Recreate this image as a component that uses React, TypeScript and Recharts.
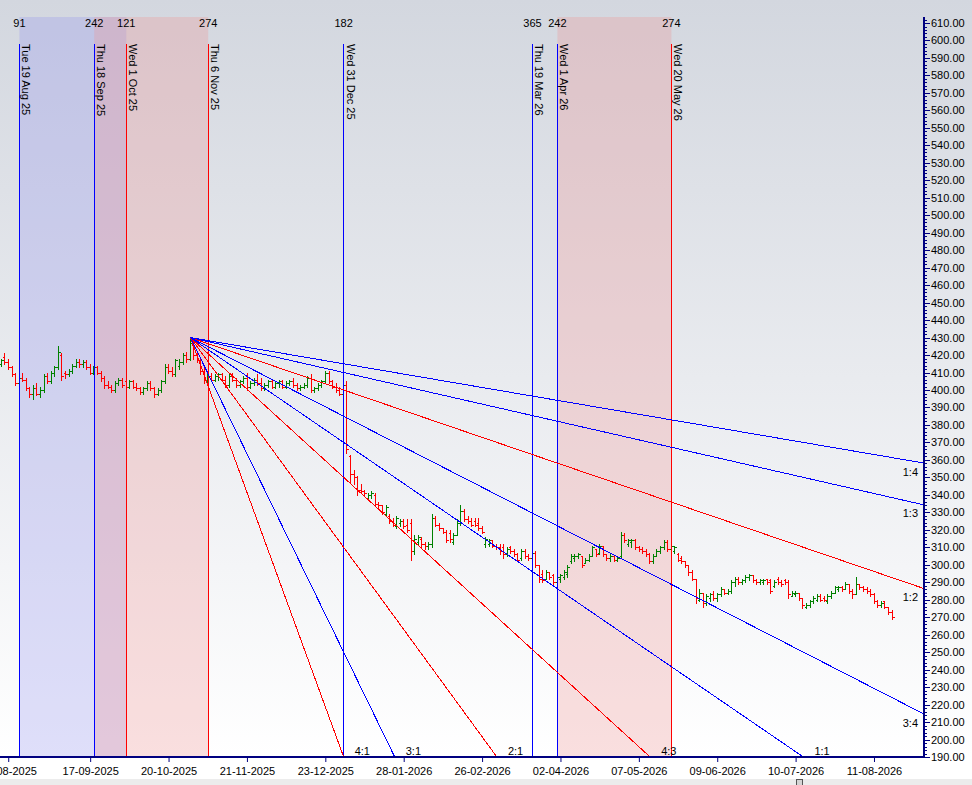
import React from 'react';
import { ComposedChart, Bar, XAxis, YAxis, ReferenceLine, ReferenceArea, ReferenceDot } from 'recharts';

// one OHLC bar per trading day: [open, high, low, close]
const bars: [number, number, number, number][] = [
  [415, 418, 414, 417], [419, 421, 415, 416], [416, 418, 412, 413], [413, 414, 408, 409], [409, 410, 403, 404],
  [404, 408, 403, 407], [407, 410, 405, 406], [406, 407, 400, 401], [401, 402, 396, 398], [398, 403, 395, 401],
  [401, 404, 397, 398], [398, 402, 396, 400], [400, 409, 399, 408], [408, 410, 404, 405], [405, 411, 404, 410],
  [410, 414, 408, 413], [413, 425, 412, 422], [420, 421, 406, 408], [410, 411, 407, 409], [409, 412, 408, 411],
  [411, 415, 410, 414], [414, 418, 413, 416], [416, 418, 413, 415], [415, 417, 413, 416], [416, 417, 412, 413],
  [413, 415, 409, 410], [410, 414, 409, 413], [413, 414, 409, 410], [410, 411, 405, 407], [407, 408, 401, 403],
  [403, 405, 401, 402], [402, 403, 399, 400], [400, 405, 399, 404], [404, 407, 403, 406], [406, 407, 402, 403],
  [405, 406, 400, 402], [402, 406, 401, 405], [405, 406, 401, 402], [402, 404, 400, 401], [401, 402, 398, 399],
  [399, 402, 398, 401], [401, 405, 400, 404], [404, 405, 400, 401], [401, 402, 396, 398], [398, 401, 397, 400],
  [400, 406, 399, 405], [405, 415, 404, 413], [413, 415, 410, 411], [411, 413, 408, 409], [409, 418, 408, 417],
  [414, 418, 412, 416], [416, 421, 415, 420], [420, 422, 416, 418], [418, 430, 417, 427], [426, 427, 418, 420],
  [420, 422, 416, 417], [417, 419, 409, 411], [411, 414, 404, 406], [406, 410, 404, 408], [408, 410, 405, 406],
  [406, 409, 405, 408], [408, 410, 406, 409], [409, 410, 405, 406], [406, 408, 402, 403], [403, 409, 402, 408],
  [408, 410, 405, 406], [406, 407, 402, 403], [403, 406, 402, 405], [405, 408, 404, 407], [407, 410, 400, 402],
  [402, 405, 401, 404], [404, 407, 403, 406], [406, 409, 403, 404], [404, 407, 400, 401], [401, 404, 400, 403],
  [403, 406, 402, 405], [405, 406, 401, 402], [402, 405, 401, 404], [404, 406, 402, 405], [405, 406, 401, 402],
  [402, 405, 401, 404], [404, 406, 403, 405], [405, 407, 402, 403], [403, 404, 400, 401], [401, 403, 400, 402],
  [402, 404, 401, 403], [403, 408, 402, 407], [407, 409, 399, 400], [400, 402, 399, 401], [401, 404, 400, 403],
  [403, 406, 402, 405], [405, 411, 404, 410], [410, 411, 404, 405], [405, 406, 401, 402], [402, 404, 399, 400],
  [400, 402, 397, 398], [398, 405, 397, 403], [403, 405, 364, 366], [362, 363, 347, 352], [352, 354, 346, 350],
  [350, 351, 340, 343], [343, 346, 341, 342], [342, 343, 340, 341], [338, 341, 337, 340], [340, 342, 338, 341],
  [340, 341, 334, 335], [335, 336, 333, 334], [334, 334, 329, 330], [329, 334, 328, 333], [328, 329, 324, 325],
  [325, 327, 322, 323], [322, 328, 321, 327], [324, 326, 322, 325], [325, 326, 321, 322], [323, 326, 319, 320],
  [324, 326, 303, 308], [308, 317, 306, 315], [313, 317, 312, 316], [315, 316, 310, 312], [312, 313, 309, 311],
  [311, 313, 309, 312], [312, 329, 310, 327], [327, 328, 322, 323], [323, 324, 320, 321], [321, 321, 318, 319],
  [319, 320, 313, 314], [318, 320, 313, 315], [313, 318, 312, 317], [317, 326, 317, 324], [324, 334, 323, 331],
  [331, 332, 325, 326], [326, 328, 324, 325], [325, 327, 322, 323], [325, 327, 322, 323], [324, 327, 320, 321],
  [321, 322, 318, 319], [312, 316, 310, 315], [312, 315, 311, 314], [314, 314, 310, 311], [311, 312, 309, 310],
  [310, 312, 306, 308], [310, 312, 304, 306], [306, 310, 305, 309], [310, 311, 307, 308], [308, 309, 305, 306],
  [306, 307, 302, 303], [304, 309, 303, 308], [308, 309, 304, 305], [305, 306, 303, 304], [304, 309, 300, 307],
  [307, 308, 299, 300], [300, 300, 290, 292], [295, 297, 290, 291], [292, 297, 292, 296], [296, 296, 292, 293],
  [294, 295, 288, 290], [290, 294, 289, 293], [292, 295, 290, 294], [293, 297, 292, 296], [295, 300, 293, 299],
  [302, 306, 301, 305], [304, 306, 302, 305], [305, 307, 304, 306], [305, 305, 299, 300], [301, 304, 301, 303],
  [303, 306, 302, 305], [305, 311, 305, 310], [309, 309, 305, 306], [307, 312, 306, 311], [311, 311, 305, 306],
  [306, 306, 303, 304], [304, 306, 302, 305], [305, 305, 302, 303], [303, 305, 302, 304], [305, 319, 304, 317],
  [317, 318, 313, 314], [312, 315, 311, 314], [313, 315, 310, 314], [314, 315, 309, 310], [310, 311, 308, 309],
  [309, 310, 307, 308], [308, 309, 305, 306], [306, 307, 301, 302], [302, 306, 301, 305], [305, 309, 305, 308],
  [308, 311, 307, 310], [310, 314, 309, 313], [313, 314, 308, 309], [309, 312, 307, 311], [308, 311, 307, 310],
  [306, 307, 302, 303], [304, 305, 301, 302], [302, 302, 299, 300], [300, 300, 294, 296], [296, 297, 291, 292],
  [292, 292, 278, 281], [280, 286, 279, 284], [284, 284, 276, 278], [278, 283, 277, 282], [281, 284, 279, 283],
  [283, 285, 280, 281], [281, 284, 279, 283], [283, 287, 282, 286], [286, 286, 283, 284], [284, 286, 283, 285],
  [285, 291, 284, 290], [290, 293, 288, 292], [292, 293, 289, 290], [290, 292, 289, 291], [291, 294, 290, 293],
  [293, 295, 291, 294], [294, 294, 290, 291], [291, 292, 289, 290], [290, 292, 289, 291], [290, 292, 289, 291],
  [292, 292, 289, 290], [291, 292, 284, 285], [288, 291, 287, 290], [292, 293, 289, 290], [290, 291, 288, 289],
  [291, 292, 289, 290], [290, 291, 281, 283], [282, 285, 282, 284], [283, 285, 282, 284], [284, 284, 280, 281],
  [281, 281, 275, 277], [276, 278, 275, 277], [277, 280, 276, 279], [279, 282, 278, 281], [280, 283, 279, 282],
  [282, 283, 279, 280], [281, 282, 279, 280], [279, 283, 278, 282], [282, 285, 281, 284], [284, 288, 284, 287],
  [286, 288, 285, 287], [287, 288, 285, 286], [286, 290, 286, 289], [289, 289, 284, 285], [285, 286, 281, 283],
  [283, 293, 283, 289], [289, 289, 286, 287], [287, 288, 285, 286], [286, 287, 284, 285], [285, 286, 282, 283],
  [283, 284, 278, 279], [279, 280, 276, 277], [277, 279, 276, 278], [279, 279, 275, 276], [276, 276, 272, 273],
  [273, 274, 269, 270],
];

// x axis: bar index of each date label
const xTickIdx = [2, 25, 47, 69, 91, 113, 135, 157, 179, 201, 223, 245];
const xTickLabels = [
  '14-08-2025', '17-09-2025', '20-10-2025', '21-11-2025', '23-12-2025', '28-01-2026',
  '26-02-2026', '02-04-2026', '07-05-2026', '09-06-2026', '10-07-2026', '11-08-2026',
];

// vertical time markers
const markerIdx = [5, 26, 35, 58, 96, 149, 156, 188];
const markerDates = [
  'Tue 19 Aug 25', 'Thu 18 Sep 25', 'Wed 1 Oct 25', 'Thu 6 Nov 25',
  'Wed 31 Dec 25', 'Thu 19 Mar 26', 'Wed 1 Apr 26', 'Wed 20 May 26',
];
const markerCounts = ['91', '242', '121', '274', '182', '365', '242', '274'];
const markerColors = ['#0000ff', '#0000ff', '#ff0000', '#ff0000', '#0000ff', '#0000ff', '#0000ff', '#ff0000'];

const zones = [
  { from: 5, to: 35, color: '#9696f0' },
  { from: 26, to: 58, color: '#f09696' },
  { from: 156, to: 188, color: '#f09696' },
];

// gann fan from the top
const fanRatios = ['4:1', '3:1', '2:1', '4:3', '1:1', '3:4', '1:2', '1:3', '1:4'];
const fanColors = ['#ff0000', '#0000ff', '#ff0000', '#ff0000', '#0000ff', '#0000ff', '#ff0000', '#0000ff', '#0000ff'];
const pivot = { k: 53, price: 430 };
const pricePerBar = 1.395;

const X_MIN = -0.449;
const X_MAX = 258.896;
const Y_MIN = 190;
const Y_MAX = 613.44;

const yTicks: number[] = [];
for (let v = 190; v <= 612; v += 2) yTicks.push(v);

const rows = bars.map(([o, h, l, c], k) => ({ k, o, h, l, c, hl: [l, h] }));

const fans = fanRatios.map((r, i) => {
  const [a, b] = r.split(':').map(Number);
  const slope = (a / b) * pricePerBar;
  let k2 = pivot.k + (pivot.price - Y_MIN) / slope;
  let p2 = Y_MIN;
  const toBottom = k2 <= X_MAX;
  if (!toBottom) {
    k2 = X_MAX;
    p2 = pivot.price - slope * (X_MAX - pivot.k);
  }
  return { r, color: fanColors[i], k2, p2, toBottom };
});

const FONT = '"Liberation Sans", Arial, sans-serif';
const NAVY = '#000080';

function Ohlc(props: any) {
  const { x, y, width, height, payload } = props;
  if (!payload || height == null) return null;
  const { o, h, l, c } = payload;
  const cx = Math.round(x + width / 2 - 0.5) + 0.5;
  const span = h - l || 1;
  const py = (v: number) => Math.round(y + ((h - v) / span) * height) + 0.5;
  const color = c >= o ? '#008000' : '#ff0000';
  return (
    <g stroke={color} strokeWidth={1} shapeRendering="crispEdges">
      <line x1={cx} x2={cx} y1={Math.round(y)} y2={Math.round(y + height) + 1} />
      <line x1={cx - 2} x2={cx} y1={py(o)} y2={py(o)} />
      <line x1={cx} x2={cx + 2.5} y1={py(c)} y2={py(c)} />
    </g>
  );
}

function VLine(props: any) {
  const { x1, y1, y2, stroke } = props;
  const x = Math.floor(x1) + 0.5;
  return <line x1={x} x2={x} y1={y1} y2={y2} stroke={stroke} strokeWidth={1} shapeRendering="crispEdges" />;
}

function FanLine(props: any) {
  const { x1, y1, x2, y2, stroke } = props;
  return <line x1={x1} y1={y1} x2={x2} y2={y2} stroke={stroke} strokeWidth={1} shapeRendering="crispEdges" />;
}

function XTick(props: any) {
  const { x, y, payload } = props;
  const i = xTickIdx.indexOf(payload.value);
  return (
    <text x={x} y={y} dy={11} textAnchor="middle" fontSize={11} fontFamily={FONT} fill="#000">
      {xTickLabels[i]}
    </text>
  );
}

function YTick(props: any) {
  const { x, y, payload } = props;
  const major = payload.value % 10 === 0;
  const yy = Math.round(y) + 0.5;
  return (
    <g>
      <line x1={x} x2={x + (major ? 6 : 3)} y1={yy} y2={yy} stroke={NAVY} strokeWidth={1} shapeRendering="crispEdges" />
      {major && (
        <text x={x + 7} y={y + 4} fontSize={11} fontFamily={FONT} fill="#000">
          {payload.value.toFixed(2)}
        </text>
      )}
    </g>
  );
}

export default function App() {
  return (
    <div
      style={{
        position: 'relative',
        width: 972,
        height: 785,
        overflow: 'hidden',
        background: 'linear-gradient(to bottom, #d3d7df 0px, #ffffff 757px)',
      }}
    >
      <style>{'body{margin:0}'}</style>
      <ComposedChart width={972} height={785} data={rows} margin={{ top: 17, right: 0, bottom: 0, left: 0 }}>
        {zones.map((z, i) => (
          <ReferenceArea key={'z' + i} x1={z.from} x2={z.to} fill={z.color} fillOpacity={0.3} stroke="none" ifOverflow="visible" />
        ))}
        <XAxis
          dataKey="k"
          type="number"
          domain={[X_MIN, X_MAX]}
          allowDataOverflow
          ticks={xTickIdx}
          interval={0}
          height={28}
          axisLine={{ stroke: NAVY, strokeWidth: 2 }}
          tickLine={{ stroke: NAVY }}
          tickSize={5}
          tick={<XTick />}
        />
        <YAxis
          orientation="right"
          type="number"
          domain={[Y_MIN, Y_MAX]}
          allowDataOverflow
          ticks={yTicks}
          interval={0}
          width={48}
          axisLine={{ stroke: NAVY, strokeWidth: 2 }}
          tickLine={false}
          tickSize={0}
          tickMargin={0}
          tick={<YTick />}
        />
        <Bar dataKey="hl" barSize={3} isAnimationActive={false} shape={(p: any) => <Ohlc {...p} />} />
        {markerIdx.map((k, i) => (
          <ReferenceLine
            key={'m' + i}
            segment={[{ x: k, y: 598 }, { x: k, y: Y_MIN }]}
            stroke={markerColors[i]}
            strokeWidth={1}
            ifOverflow="visible"
            shape={(p: any) => <VLine {...p} stroke={markerColors[i]} />}
          />
        ))}
        {fans.map((f) => (
          <ReferenceLine
            key={'f' + f.r}
            segment={[{ x: pivot.k, y: pivot.price }, { x: f.k2, y: f.p2 }]}
            stroke={f.color}
            strokeWidth={1}
            ifOverflow="visible"
            shape={(p: any) => <FanLine {...p} stroke={f.color} />}
          />
        ))}
        {markerIdx.map((k, i) => (
          <ReferenceDot
            key={'c' + i}
            x={k}
            y={610}
            r={0}
            ifOverflow="visible"
            shape={(p: any) => (
              <text x={p.cx} y={p.cy + 4} textAnchor="middle" fontSize={11} fontFamily={FONT} fill="#000">
                {markerCounts[i]}
              </text>
            )}
          />
        ))}
        {markerIdx.map((k, i) => (
          <ReferenceDot
            key={'d' + i}
            x={k}
            y={598}
            r={0}
            ifOverflow="visible"
            shape={(p: any) => (
              <text
                x={p.cx + 3}
                y={p.cy}
                transform={`rotate(90 ${p.cx + 3} ${p.cy})`}
                fontSize={11}
                fontFamily={FONT}
                fill="#000"
              >
                {markerDates[i]}
              </text>
            )}
          />
        ))}
        {fans.map((f) => (
          <ReferenceDot
            key={'l' + f.r}
            x={f.k2}
            y={f.p2}
            r={0}
            ifOverflow="visible"
            shape={(p: any) =>
              f.toBottom ? (
                <text x={p.cx + 11} y={p.cy - 2} fontSize={11} fontFamily={FONT} fill="#000">
                  {f.r}
                </text>
              ) : (
                <text x={p.cx - 6} y={p.cy + 12.5} textAnchor="end" fontSize={11} fontFamily={FONT} fill="#000">
                  {f.r}
                </text>
              )
            }
          />
        ))}
      </ComposedChart>
      <div style={{ position: 'absolute', left: 0, top: 779, width: 972, height: 6, background: '#ececec' }} />
      <div
        style={{
          position: 'absolute',
          left: 796,
          top: 779,
          width: 5,
          height: 5,
          background: '#d4d4d4',
          border: '1px solid #555',
        }}
      />
    </div>
  );
}
